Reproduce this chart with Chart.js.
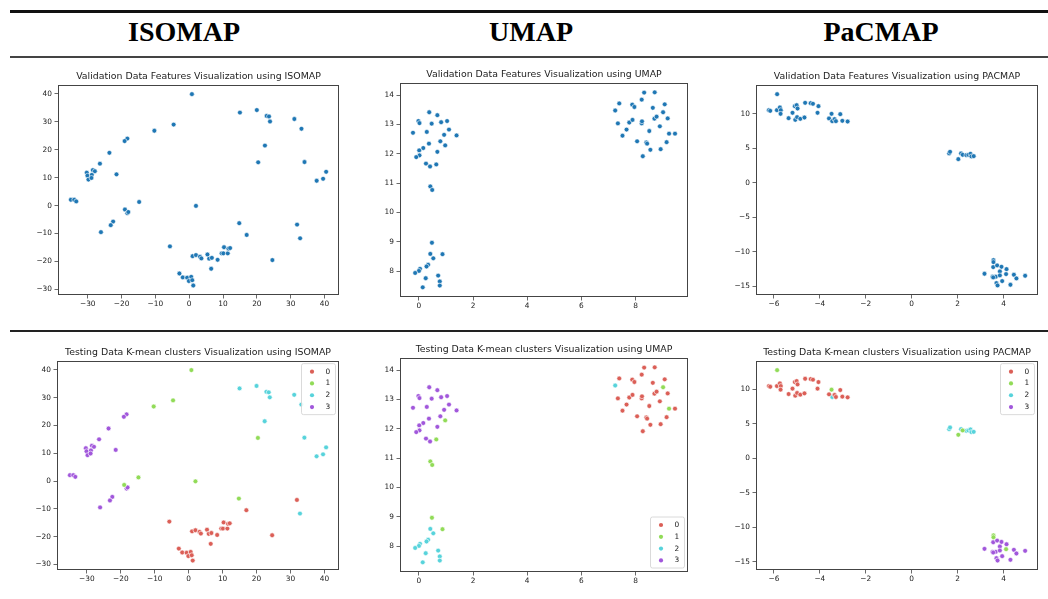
<!DOCTYPE html>
<html><head><meta charset="utf-8">
<script src="https://cdn.jsdelivr.net/npm/chart.js@4.4.1/dist/chart.umd.min.js"></script>
<style>
html,body{margin:0;padding:0;background:#fff;}
body{width:1048px;height:599px;position:relative;overflow:hidden;font-family:"DejaVu Sans",sans-serif;}
.hline{position:absolute;left:10px;right:0;}
.hdr{position:absolute;top:18px;font:bold 28px "Liberation Serif",serif;line-height:28px;color:#000;transform:translateX(-50%);white-space:nowrap;}
canvas{position:absolute;}
</style></head>
<body>
<div class="hline" style="top:10px;height:2.5px;background:#111"></div>
<div class="hline" style="top:56px;height:2px;background:#444"></div>
<div class="hline" style="top:330px;height:2px;background:#222"></div>
<div class="hdr" style="left:184px">ISOMAP</div>
<div class="hdr" style="left:531px">UMAP</div>
<div class="hdr" style="left:881px">PaCMAP</div>

<canvas id="c1"></canvas><canvas id="c2"></canvas><canvas id="c3"></canvas>
<canvas id="c4"></canvas><canvas id="c5"></canvas><canvas id="c6"></canvas>

<script>
// ---------- DATA ----------
const clusterLabels = ['0','1','2','3'];

const isoX = [0.8,15.0,20.0,22.9,23.6,23.9,31.1,33.2,22.4,20.4,34.1,40.5,37.7,39.6,-4.6,-10.3,-18.3,-19.1,-23.6,-26.4,-21.5,-30.3,-28.5,-27.9,-30.1,-28.8,-29.8,-28.9,-35.0,-34.0,-33.4,-14.8,2.0,-19.0,-18.3,-18.0,-22.5,-23.2,-26.1,14.8,17.0,31.9,32.8,24.6,-5.7,1.0,2.0,3.2,3.6,5.4,5.9,6.7,6.5,8.4,9.6,10.1,10.3,11.4,11.6,12.1,-2.9,-1.9,-0.6,-0.1,0.6,0.9,1.2];
const isoY = [39.9,33.3,34.2,32.1,31.9,30.1,31.0,27.5,21.5,15.5,15.6,12.1,8.9,9.6,29.0,26.8,24.0,23.1,18.9,15.0,11.2,11.8,12.7,12.3,10.7,11.0,9.3,9.9,2.1,2.1,1.5,1.3,-0.1,-1.4,-2.7,-2.3,-5.7,-7.0,-9.5,-6.3,-10.5,-6.8,-11.7,-19.5,-14.6,-18.1,-17.7,-18.3,-18.9,-17.5,-19.0,-18.7,-22.6,-19.4,-17.1,-17.1,-14.9,-17.1,-15.4,-15.2,-24.3,-25.7,-25.8,-27.0,-25.5,-26.7,-28.6];
const isoCluster = [1,2,2,2,2,2,2,2,2,1,2,2,2,2,1,1,3,3,3,3,3,3,3,3,3,3,3,3,3,3,3,1,1,1,3,3,3,3,3,1,0,0,2,0,0,0,0,0,0,0,0,0,0,0,0,0,0,0,0,0,0,0,0,0,0,0,0];
const isoXTicks = [-30,-20,-10,0,10,20,30,40];
const isoYTicks = [-30,-20,-10,0,10,20,30,40];

const umapX = [-0.22,-0.02,0.02,0.38,0.68,1.04,0.47,0.82,1.11,1.39,0.29,0.93,0.79,0.97,0.37,0.16,0.01,0.02,-0.10,0.68,0.26,0.41,0.64,0.42,0.49,0.48,0.42,0.87,0.53,0.34,0.28,0.04,0.00,-0.14,0.25,0.71,0.77,0.77,0.14,
  7.25,7.40,7.35,7.52,7.67,7.77,7.89,7.88,7.96,8.06,8.23,8.24,8.23,8.32,8.71,8.64,8.51,8.40,8.43,8.27,8.55,8.70,8.78,8.90,8.93,9.02,9.08,9.19,9.24,9.46,9.15];
const umapY = [12.72,13.12,13.05,13.42,13.32,13.12,13.03,13.08,12.83,12.63,12.75,12.65,12.43,12.29,12.35,12.20,12.12,11.95,11.89,12.07,11.67,11.57,11.64,10.89,10.77,8.97,8.59,8.58,8.44,8.22,8.16,8.08,8.01,7.94,7.76,7.85,7.65,7.51,7.45,
  13.48,13.72,13.04,12.62,12.83,13.07,13.16,13.68,13.60,12.43,13.04,13.11,13.85,14.09,14.10,13.57,12.78,12.39,12.35,11.92,12.14,13.20,13.27,12.94,12.16,13.42,13.69,13.21,12.69,12.69,12.40];
const umapCluster = [3,3,3,3,3,3,3,3,3,3,3,3,3,1,3,3,3,3,3,3,3,3,1,1,1,1,2,1,2,2,2,2,2,2,2,2,2,2,2,
  2,0,0,0,0,0,0,0,0,0,0,0,0,0,0,0,0,0,0,0,0,0,0,0,0,1,0,0,1,0,0];
const umapXTicks = [0,2,4,6,8];
const umapYTicks = [8,9,10,11,12,13,14];

const pacX = [-5.86,-6.22,-6.16,-5.87,-5.74,-5.70,-5.71,-5.36,-5.19,-5.09,-5.01,-4.97,-5.07,-4.99,-4.85,-4.67,-4.64,-4.40,-4.30,-4.06,-4.10,-3.60,-3.49,-3.46,-3.36,-3.30,-3.11,-3.02,-2.79,
  1.63,1.67,2.03,2.15,2.22,2.38,2.47,2.56,2.60,2.70,
  3.17,3.56,3.56,3.55,3.72,3.91,4.13,3.84,3.52,3.66,3.84,4.11,4.45,4.56,4.94,3.94,3.69,3.74,4.30,3.55];
const pacY = [12.81,10.50,10.40,10.50,10.89,10.50,9.97,9.34,10.12,11.08,11.22,10.74,9.10,9.49,9.25,9.44,11.56,11.51,11.42,11.08,10.12,9.30,9.97,8.91,9.20,8.91,9.92,8.96,8.86,
  4.24,4.48,3.42,4.24,4.05,4.00,4.05,4.19,3.81,3.85,
  -13.15,-11.18,-11.46,-12.19,-11.95,-12.14,-12.48,-12.81,-13.58,-13.58,-13.39,-13.20,-13.29,-13.82,-13.44,-14.21,-14.50,-14.84,-14.74,-13.68];
const pacCluster = [1,0,0,0,0,0,0,0,0,0,0,0,0,0,0,0,0,0,0,0,0,0,1,2,0,0,0,0,0,
  2,2,1,2,1,2,2,2,2,2,
  3,1,1,3,3,3,3,3,3,3,3,1,3,3,3,3,3,3,3,3];
const pacXTicks = [-6,-4,-2,0,2,4];
const pacYTicks = [-15,-10,-5,0,5,10];

// ---------- STYLE ----------
const BLUE = '#1f77b4';
const PALETTE = ['#db5f57','#91db57','#57d3db','#a157db'];
const TICK_FONT = {family:'"DejaVu Sans"', size:7.4};
const TXT = '#222';
const EDGE = '#444';
const YW = 30, XH = 18, PADR = 6;
const TITLE_SIZE = 9.4, TITLE_LH = 1.2, TITLE_PT = 2, TITLE_PB = 2.36;
const TITLE_H = TITLE_PT + TITLE_SIZE*TITLE_LH + TITLE_PB;

const fmt = v => v < 0 ? '\u2212' + Math.abs(v) : String(v);

const framePlugin = {
  id:'frame',
  afterDatasetsDraw(chart){
    const {ctx, chartArea:a} = chart;
    ctx.save();
    ctx.strokeStyle = EDGE; ctx.lineWidth = 1;
    ctx.strokeRect(Math.round(a.left)+0.5, Math.round(a.top)+0.5, Math.round(a.right-a.left)-1, Math.round(a.bottom-a.top)-1);
    ctx.restore();
  }
};

const insideLegend = {
  id:'insideLegend',
  afterDraw(chart, args, opts){
    if (!opts || !opts.corner) return;
    const {ctx, chartArea:a} = chart;
    const w = 34, h = 51;
    const x = a.right - 4 - w;
    const y = opts.corner === 'ur' ? a.top + 2.5 : a.bottom - 4.5 - h;
    ctx.save();
    ctx.beginPath();
    if (ctx.roundRect) ctx.roundRect(x+0.5, y+0.5, w, h, 2); else ctx.rect(x+0.5, y+0.5, w, h);
    ctx.fillStyle = 'rgba(255,255,255,0.85)';
    ctx.fill();
    ctx.strokeStyle = '#d0d0d0'; ctx.lineWidth = 0.8; ctx.stroke();
    chart.data.datasets.forEach((ds, i) => {
      const cy = y + 8.5 + i*11.8;
      ctx.beginPath(); ctx.arc(x + 11, cy, 2.1, 0, Math.PI*2);
      ctx.fillStyle = ds.pointBackgroundColor; ctx.fill();
      ctx.fillStyle = TXT; ctx.font = '7.4px "DejaVu Sans"';
      ctx.textBaseline = 'middle'; ctx.textAlign = 'left';
      ctx.fillText(ds.label, x + 24.5, cy);
    });
    ctx.restore();
  }
};

function axis(min, max, ticks, isX){
  return {
    type:'linear', min, max,
    afterBuildTicks: s => { s.ticks = ticks.map(v => ({value:v})); },
    afterFit: s => { if (isX) s.height = XH; else s.width = YW; },
    grid:{display:true, drawOnChartArea:false, drawTicks:true, tickLength:3.5, color:EDGE, lineWidth:0.8},
    border:{display:false},
    ticks:{font:TICK_FONT, color:TXT, padding: isX ? 1.5 : 2.5, maxRotation:0, autoSkip:false, callback: v => fmt(v)}
  };
}

function makeChart(id, rect, title, datasets, xr, yr, xt, yt, legendCorner){
  const cv = document.getElementById(id);
  const w = (rect.r - rect.l) + YW + PADR;
  const h = TITLE_H + (rect.b - rect.t) + XH;
  cv.width = w; cv.height = Math.round(h);
  cv.style.left = (rect.l - YW) + 'px';
  cv.style.top = (rect.t - TITLE_H) + 'px';
  new Chart(cv, {
    type:'scatter',
    data:{datasets},
    options:{
      responsive:false, animation:false, devicePixelRatio:1,
      layout:{padding:{left:0, right:PADR, top:0, bottom:0}},
      plugins:{
        legend:{display:false}, tooltip:{enabled:false},
        title:{display:true, text:title, fullSize:false, color:TXT,
               font:{family:'"DejaVu Sans"', size:TITLE_SIZE, lineHeight:TITLE_LH, weight:'normal'},
               padding:{top:TITLE_PT, bottom:TITLE_PB}},
        insideLegend:{corner:legendCorner || null}
      },
      scales:{ x: axis(xr[0], xr[1], xt, true), y: axis(yr[0], yr[1], yt, false) }
    },
    plugins:[framePlugin, insideLegend]
  });
}

function single(xs, ys){
  return [{label:'features', data: xs.map((x,i)=>({x, y:ys[i]})),
    pointBackgroundColor:BLUE, backgroundColor:BLUE, pointBorderColor:'#fff', pointBorderWidth:0.6, pointRadius:2.4}];
}
function clustered(xs, ys, cl){
  return clusterLabels.map((lab, k) => ({
    label: lab,
    data: xs.map((x,i)=>({x, y:ys[i], c:cl[i]})).filter(p => p.c === k),
    pointBackgroundColor:PALETTE[k], backgroundColor:PALETTE[k], pointBorderColor:'#fff', pointBorderWidth:0.6, pointRadius:2.4
  }));
}

const isoXR = [-38.8, 44.3], isoYR = [-32.0, 43.3];
const umapXR = [-0.70, 9.94], umapYR = [7.12, 14.43];
const pacXR = [-6.78, 5.50], pacYR = [-16.22, 14.19];

makeChart('c1', {l:58,t:85,r:339,b:295}, 'Validation Data Features Visualization using ISOMAP', single(isoX, isoY), isoXR, isoYR, isoXTicks, isoYTicks);
makeChart('c2', {l:400,t:83,r:688,b:297}, 'Validation Data Features Visualization using UMAP', single(umapX, umapY), umapXR, umapYR, umapXTicks, umapYTicks);
makeChart('c3', {l:756,t:85,r:1038,b:295}, 'Validation Data Features Visualization using PACMAP', single(pacX, pacY), pacXR, pacYR, pacXTicks, pacYTicks);
makeChart('c4', {l:57,t:361,r:339,b:570}, 'Testing Data K-mean clusters Visualization using ISOMAP', clustered(isoX, isoY, isoCluster), isoXR, isoYR, isoXTicks, isoYTicks, 'ur');
makeChart('c5', {l:400,t:358,r:688,b:572}, 'Testing Data K-mean clusters Visualization using UMAP', clustered(umapX, umapY, umapCluster), umapXR, umapYR, umapXTicks, umapYTicks, 'lr');
makeChart('c6', {l:756,t:361,r:1038,b:570}, 'Testing Data K-mean clusters Visualization using PACMAP', clustered(pacX, pacY, pacCluster), pacXR, pacYR, pacXTicks, pacYTicks, 'ur');
</script>
</body></html>
